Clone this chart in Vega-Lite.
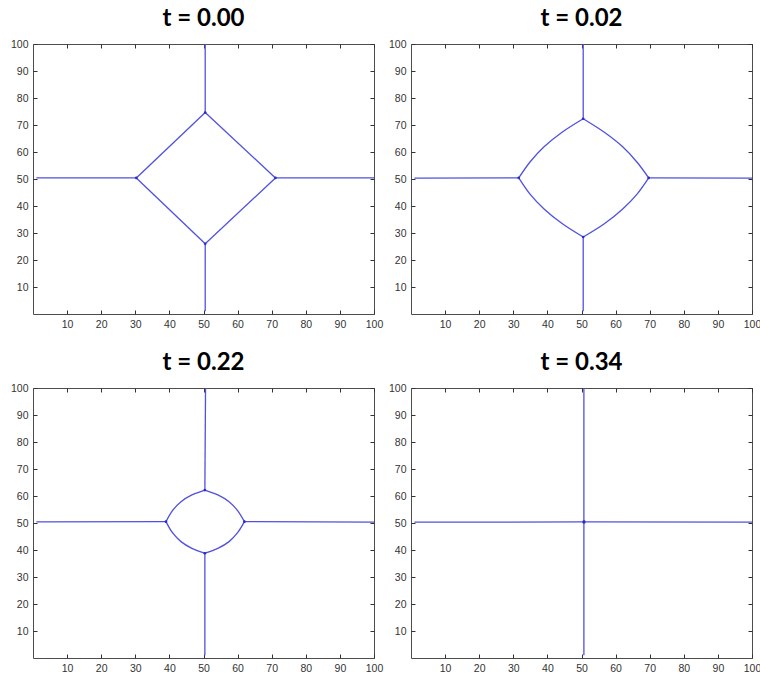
{
  "$schema": "https://vega.github.io/schema/vega-lite/v6.json",
  "background": "white",
  "padding": {"left": 9, "top": 6, "right": 4, "bottom": 2},
  "datasets": {
    "curves": [
      {"t": "0.00", "seg": "a", "i": 0, "x": 1, "y": 50.4},
      {"t": "0.00", "seg": "a", "i": 1, "x": 30.3, "y": 50.4},
      {"t": "0.00", "seg": "b", "i": 0, "x": 71.1, "y": 50.4},
      {"t": "0.00", "seg": "b", "i": 1, "x": 100, "y": 50.4},
      {"t": "0.00", "seg": "c", "i": 0, "x": 50.5, "y": 74.6},
      {"t": "0.00", "seg": "c", "i": 1, "x": 50.5, "y": 100},
      {"t": "0.00", "seg": "d", "i": 0, "x": 50.5, "y": 1},
      {"t": "0.00", "seg": "d", "i": 1, "x": 50.5, "y": 26.0},
      {"t": "0.00", "seg": "e", "i": 0, "x": 30.3, "y": 50.4},
      {"t": "0.00", "seg": "e", "i": 1, "x": 50.5, "y": 74.6},
      {"t": "0.00", "seg": "f", "i": 0, "x": 50.5, "y": 74.6},
      {"t": "0.00", "seg": "f", "i": 1, "x": 71.1, "y": 50.4},
      {"t": "0.00", "seg": "g", "i": 0, "x": 71.1, "y": 50.4},
      {"t": "0.00", "seg": "g", "i": 1, "x": 50.5, "y": 26.0},
      {"t": "0.00", "seg": "h", "i": 0, "x": 50.5, "y": 26.0},
      {"t": "0.00", "seg": "h", "i": 1, "x": 30.3, "y": 50.4},

      {"t": "0.02", "seg": "a", "i": 0, "x": 1, "y": 50.3},
      {"t": "0.02", "seg": "a", "i": 1, "x": 31.6, "y": 50.4},
      {"t": "0.02", "seg": "b", "i": 0, "x": 69.7, "y": 50.4},
      {"t": "0.02", "seg": "b", "i": 1, "x": 100, "y": 50.3},
      {"t": "0.02", "seg": "c", "i": 0, "x": 50.5, "y": 72.3},
      {"t": "0.02", "seg": "c", "i": 1, "x": 50.5, "y": 100},
      {"t": "0.02", "seg": "d", "i": 0, "x": 50.5, "y": 1},
      {"t": "0.02", "seg": "d", "i": 1, "x": 50.5, "y": 28.5},
      {"t": "0.02", "seg": "e", "i": 0, "x": 31.6, "y": 50.4},
      {"t": "0.02", "seg": "e", "i": 1, "x": 34.9, "y": 56.3},
      {"t": "0.02", "seg": "e", "i": 2, "x": 39.1, "y": 62.0},
      {"t": "0.02", "seg": "e", "i": 3, "x": 44.3, "y": 67.3},
      {"t": "0.02", "seg": "e", "i": 4, "x": 50.5, "y": 72.3},
      {"t": "0.02", "seg": "f", "i": 0, "x": 50.5, "y": 72.3},
      {"t": "0.02", "seg": "f", "i": 1, "x": 56.8, "y": 67.2},
      {"t": "0.02", "seg": "f", "i": 2, "x": 62.0, "y": 62.0},
      {"t": "0.02", "seg": "f", "i": 3, "x": 66.3, "y": 56.2},
      {"t": "0.02", "seg": "f", "i": 4, "x": 69.7, "y": 50.4},
      {"t": "0.02", "seg": "g", "i": 0, "x": 69.7, "y": 50.4},
      {"t": "0.02", "seg": "g", "i": 1, "x": 66.3, "y": 44.4},
      {"t": "0.02", "seg": "g", "i": 2, "x": 62.0, "y": 38.8},
      {"t": "0.02", "seg": "g", "i": 3, "x": 56.8, "y": 33.5},
      {"t": "0.02", "seg": "g", "i": 4, "x": 50.5, "y": 28.5},
      {"t": "0.02", "seg": "h", "i": 0, "x": 50.5, "y": 28.5},
      {"t": "0.02", "seg": "h", "i": 1, "x": 44.3, "y": 33.5},
      {"t": "0.02", "seg": "h", "i": 2, "x": 39.1, "y": 38.8},
      {"t": "0.02", "seg": "h", "i": 3, "x": 34.9, "y": 44.4},
      {"t": "0.02", "seg": "h", "i": 4, "x": 31.6, "y": 50.4},

      {"t": "0.22", "seg": "a", "i": 0, "x": 1, "y": 50.4},
      {"t": "0.22", "seg": "a", "i": 1, "x": 39.0, "y": 50.5},
      {"t": "0.22", "seg": "b", "i": 0, "x": 62.0, "y": 50.5},
      {"t": "0.22", "seg": "b", "i": 1, "x": 100, "y": 50.3},
      {"t": "0.22", "seg": "c", "i": 0, "x": 50.6, "y": 100},
      {"t": "0.22", "seg": "c", "i": 1, "x": 50.4, "y": 62.2},
      {"t": "0.22", "seg": "d", "i": 0, "x": 50.4, "y": 38.8},
      {"t": "0.22", "seg": "d", "i": 1, "x": 50.4, "y": 1},
      {"t": "0.22", "seg": "e", "i": 0, "x": 39.0, "y": 50.5},
      {"t": "0.22", "seg": "e", "i": 1, "x": 40.9, "y": 54.6},
      {"t": "0.22", "seg": "e", "i": 2, "x": 43.4, "y": 57.9},
      {"t": "0.22", "seg": "e", "i": 3, "x": 46.6, "y": 60.4},
      {"t": "0.22", "seg": "e", "i": 4, "x": 50.4, "y": 62.2},
      {"t": "0.22", "seg": "f", "i": 0, "x": 50.4, "y": 62.2},
      {"t": "0.22", "seg": "f", "i": 1, "x": 54.2, "y": 60.4},
      {"t": "0.22", "seg": "f", "i": 2, "x": 57.5, "y": 57.9},
      {"t": "0.22", "seg": "f", "i": 3, "x": 60.0, "y": 54.6},
      {"t": "0.22", "seg": "f", "i": 4, "x": 62.0, "y": 50.5},
      {"t": "0.22", "seg": "g", "i": 0, "x": 62.0, "y": 50.5},
      {"t": "0.22", "seg": "g", "i": 1, "x": 60.0, "y": 46.4},
      {"t": "0.22", "seg": "g", "i": 2, "x": 57.5, "y": 43.1},
      {"t": "0.22", "seg": "g", "i": 3, "x": 54.2, "y": 40.6},
      {"t": "0.22", "seg": "g", "i": 4, "x": 50.4, "y": 38.8},
      {"t": "0.22", "seg": "h", "i": 0, "x": 50.4, "y": 38.8},
      {"t": "0.22", "seg": "h", "i": 1, "x": 46.6, "y": 40.6},
      {"t": "0.22", "seg": "h", "i": 2, "x": 43.4, "y": 43.1},
      {"t": "0.22", "seg": "h", "i": 3, "x": 40.9, "y": 46.4},
      {"t": "0.22", "seg": "h", "i": 4, "x": 39.0, "y": 50.5},

      {"t": "0.34", "seg": "a", "i": 0, "x": 1, "y": 50.3},
      {"t": "0.34", "seg": "a", "i": 1, "x": 50.3, "y": 50.4},
      {"t": "0.34", "seg": "b", "i": 0, "x": 51.1, "y": 50.4},
      {"t": "0.34", "seg": "b", "i": 1, "x": 100, "y": 50.3},
      {"t": "0.34", "seg": "c", "i": 0, "x": 50.7, "y": 1},
      {"t": "0.34", "seg": "c", "i": 1, "x": 50.7, "y": 100},
      {"t": "0.34", "seg": "e", "i": 0, "x": 50.3, "y": 50.4},
      {"t": "0.34", "seg": "e", "i": 1, "x": 50.7, "y": 50.9},
      {"t": "0.34", "seg": "e", "i": 2, "x": 51.1, "y": 50.4},
      {"t": "0.34", "seg": "e", "i": 3, "x": 50.7, "y": 49.9},
      {"t": "0.34", "seg": "e", "i": 4, "x": 50.3, "y": 50.4}
    ],
    "junctions": [
      {"t": "0.00", "x": 30.3, "y": 50.4},
      {"t": "0.00", "x": 50.5, "y": 74.6},
      {"t": "0.00", "x": 71.1, "y": 50.4},
      {"t": "0.00", "x": 50.5, "y": 26.0},
      {"t": "0.02", "x": 31.6, "y": 50.4},
      {"t": "0.02", "x": 50.5, "y": 72.3},
      {"t": "0.02", "x": 69.7, "y": 50.4},
      {"t": "0.02", "x": 50.5, "y": 28.5},
      {"t": "0.22", "x": 39.0, "y": 50.5},
      {"t": "0.22", "x": 50.4, "y": 62.2},
      {"t": "0.22", "x": 62.0, "y": 50.5},
      {"t": "0.22", "x": 50.4, "y": 38.8},
      {"t": "0.34", "x": 50.7, "y": 50.4}
    ]
  },
  "columns": 2,
  "bounds": "flush",
  "spacing": {"row": 74, "column": 37},
  "concat": [
    {
      "title": "t = 0.00",
      "width": 341, "height": 270,
      "layer": [
        {
          "data": {"name": "curves"},
          "transform": [{"filter": "datum.t == '0.00'"}],
          "mark": {"type": "line", "interpolate": "catmull-rom"},
          "encoding": {
            "x": {"field": "x", "type": "quantitative", "scale": {"domain": [1, 100]}, "axis": {"orient": "bottom", "values": [10, 20, 30, 40, 50, 60, 70, 80, 90, 100]}},
            "y": {"field": "y", "type": "quantitative", "scale": {"domain": [1, 100]}, "axis": {"orient": "left", "values": [10, 20, 30, 40, 50, 60, 70, 80, 90, 100]}},
            "detail": {"field": "seg"},
            "order": {"field": "i"}
          }
        },
        {
          "data": {"name": "junctions"},
          "transform": [{"filter": "datum.t == '0.00'"}],
          "mark": {"type": "point"},
          "encoding": {
            "x": {"field": "x", "type": "quantitative", "axis": {"orient": "top", "labels": false, "values": [10, 20, 30, 40, 50, 60, 70, 80, 90, 100]}},
            "y": {"field": "y", "type": "quantitative", "axis": {"orient": "right", "labels": false, "values": [10, 20, 30, 40, 50, 60, 70, 80, 90, 100]}}
          }
        }
      ],
      "resolve": {"axis": {"x": "independent", "y": "independent"}}
    },
    {
      "title": "t = 0.02",
      "width": 341, "height": 270,
      "layer": [
        {
          "data": {"name": "curves"},
          "transform": [{"filter": "datum.t == '0.02'"}],
          "mark": {"type": "line", "interpolate": "catmull-rom"},
          "encoding": {
            "x": {"field": "x", "type": "quantitative", "scale": {"domain": [1, 100]}, "axis": {"orient": "bottom", "values": [10, 20, 30, 40, 50, 60, 70, 80, 90, 100]}},
            "y": {"field": "y", "type": "quantitative", "scale": {"domain": [1, 100]}, "axis": {"orient": "left", "values": [10, 20, 30, 40, 50, 60, 70, 80, 90, 100]}},
            "detail": {"field": "seg"},
            "order": {"field": "i"}
          }
        },
        {
          "data": {"name": "junctions"},
          "transform": [{"filter": "datum.t == '0.02'"}],
          "mark": {"type": "point"},
          "encoding": {
            "x": {"field": "x", "type": "quantitative", "axis": {"orient": "top", "labels": false, "values": [10, 20, 30, 40, 50, 60, 70, 80, 90, 100]}},
            "y": {"field": "y", "type": "quantitative", "axis": {"orient": "right", "labels": false, "values": [10, 20, 30, 40, 50, 60, 70, 80, 90, 100]}}
          }
        }
      ],
      "resolve": {"axis": {"x": "independent", "y": "independent"}}
    },
    {
      "title": "t = 0.22",
      "width": 341, "height": 270,
      "layer": [
        {
          "data": {"name": "curves"},
          "transform": [{"filter": "datum.t == '0.22'"}],
          "mark": {"type": "line", "interpolate": "catmull-rom"},
          "encoding": {
            "x": {"field": "x", "type": "quantitative", "scale": {"domain": [1, 100]}, "axis": {"orient": "bottom", "values": [10, 20, 30, 40, 50, 60, 70, 80, 90, 100]}},
            "y": {"field": "y", "type": "quantitative", "scale": {"domain": [1, 100]}, "axis": {"orient": "left", "values": [10, 20, 30, 40, 50, 60, 70, 80, 90, 100]}},
            "detail": {"field": "seg"},
            "order": {"field": "i"}
          }
        },
        {
          "data": {"name": "junctions"},
          "transform": [{"filter": "datum.t == '0.22'"}],
          "mark": {"type": "point"},
          "encoding": {
            "x": {"field": "x", "type": "quantitative", "axis": {"orient": "top", "labels": false, "values": [10, 20, 30, 40, 50, 60, 70, 80, 90, 100]}},
            "y": {"field": "y", "type": "quantitative", "axis": {"orient": "right", "labels": false, "values": [10, 20, 30, 40, 50, 60, 70, 80, 90, 100]}}
          }
        }
      ],
      "resolve": {"axis": {"x": "independent", "y": "independent"}}
    },
    {
      "title": "t = 0.34",
      "width": 341, "height": 270,
      "layer": [
        {
          "data": {"name": "curves"},
          "transform": [{"filter": "datum.t == '0.34'"}],
          "mark": {"type": "line", "interpolate": "catmull-rom"},
          "encoding": {
            "x": {"field": "x", "type": "quantitative", "scale": {"domain": [1, 100]}, "axis": {"orient": "bottom", "values": [10, 20, 30, 40, 50, 60, 70, 80, 90, 100]}},
            "y": {"field": "y", "type": "quantitative", "scale": {"domain": [1, 100]}, "axis": {"orient": "left", "values": [10, 20, 30, 40, 50, 60, 70, 80, 90, 100]}},
            "detail": {"field": "seg"},
            "order": {"field": "i"}
          }
        },
        {
          "data": {"name": "junctions"},
          "transform": [{"filter": "datum.t == '0.34'"}],
          "mark": {"type": "point"},
          "encoding": {
            "x": {"field": "x", "type": "quantitative", "axis": {"orient": "top", "labels": false, "values": [10, 20, 30, 40, 50, 60, 70, 80, 90, 100]}},
            "y": {"field": "y", "type": "quantitative", "axis": {"orient": "right", "labels": false, "values": [10, 20, 30, 40, 50, 60, 70, 80, 90, 100]}}
          }
        }
      ],
      "resolve": {"axis": {"x": "independent", "y": "independent"}}
    }
  ],
  "config": {
    "view": {"stroke": "#4d4d4d", "strokeWidth": 1},
    "line": {"color": "#5050e2", "strokeWidth": 1.3},
    "point": {"color": "#2a2ac8", "filled": true, "size": 7, "opacity": 1},
    "title": {"font": "Lato", "fontSize": 24, "fontWeight": "bold", "color": "#000000", "anchor": "middle", "offset": 8},
    "axis": {
      "title": null,
      "domain": false,
      "grid": false,
      "ticks": true,
      "zindex": 1,
      "offset": -4,
      "tickSize": 4,
      "tickColor": "#333333",
      "tickWidth": 1,
      "labelFont": "Liberation Sans",
      "labelFontSize": 10.5,
      "labelColor": "#333333",
      "labelPadding": 5,
      "labelFlush": false,
      "labelOverlap": false
    }
  }
}
